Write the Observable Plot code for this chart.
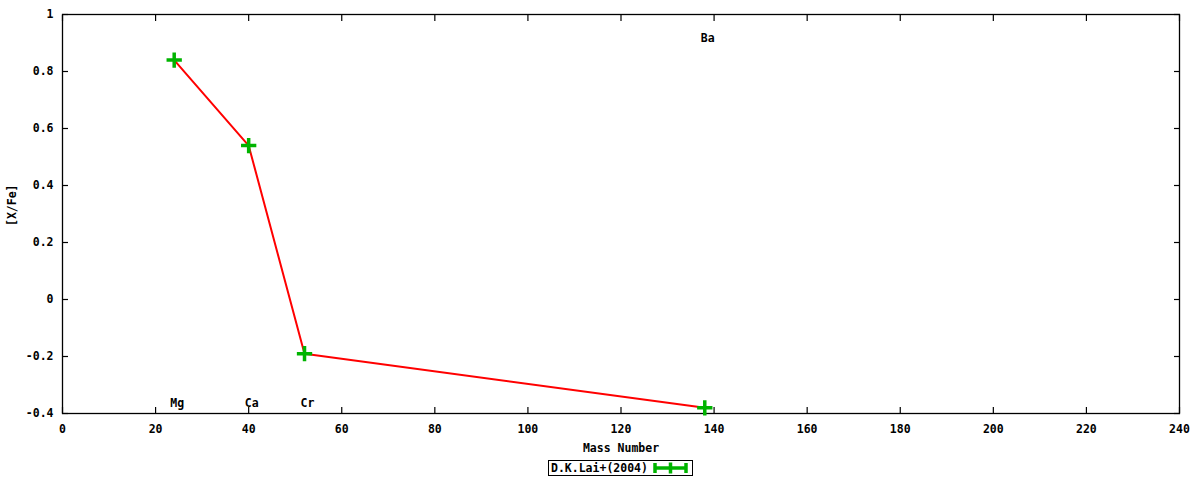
<!DOCTYPE html>
<html><head><meta charset="utf-8">
<script src="https://cdn.jsdelivr.net/npm/d3@7"></script>
<script src="https://cdn.jsdelivr.net/npm/@observablehq/plot@0.6"></script>
<style>
body{margin:0;background:#fff;font-family:"DejaVu Sans Mono",monospace;}
#wrap{position:relative;width:1200px;height:480px;}
#legend{position:absolute;left:548px;top:460px;height:16px;border:1px solid #000;display:flex;align-items:center;padding:0 2px;font:bold 11.5px "DejaVu Sans Mono",monospace;background:#fff;box-sizing:border-box;}
</style></head>
<body><div id="wrap"><div id="chart"></div><div id="legend"></div></div>
<script>
const elements = ["Mg", "Ca", "Cr", "Ba"];
const massNumber = [24, 40, 52, 138];
const xFe = [0.84, 0.54, -0.19, -0.38];
const labelY = [-0.365, -0.365, -0.365, 0.915];
const xTicks = [0, 20, 40, 60, 80, 100, 120, 140, 160, 180, 200, 220, 240];
const yTicks = [-0.4, -0.2, 0, 0.2, 0.4, 0.6, 0.8, 1];
const seriesName = "D.K.Lai+(2004)";

const data = elements.map((e, i) => ({el: e, x: massNumber[i], y: xFe[i], ly: labelY[i]}));
const green = "#00b400";
const fmtY = d => d === 0 ? "0" : (d === 1 ? "1" : String(+d.toFixed(1)));

const plot = Plot.plot({
  width: 1200, height: 480,
  marginLeft: 62, marginRight: 21, marginTop: 14, marginBottom: 67,
  style: {fontFamily: '"DejaVu Sans Mono", monospace', fontSize: "11.5px", fontWeight: "bold", color: "#000", background: "#fff"},
  x: {domain: [0, 240]},
  y: {domain: [-0.4, 1]},
  marks: [
    Plot.axisX({ticks: xTicks, tickSize: -6, tickPadding: 17, tickFormat: d => String(d), label: null, strokeWidth: 1.2}),
    Plot.axisX({anchor: "top", ticks: xTicks, tickSize: -6, tickFormat: () => "", label: null, strokeWidth: 1.2}),
    Plot.axisY({ticks: yTicks, tickSize: -6, tickPadding: 15, tickFormat: fmtY, label: null, strokeWidth: 1.2}),
    Plot.axisY({anchor: "right", ticks: yTicks, tickSize: -6, tickFormat: () => "", label: null, strokeWidth: 1.2}),
    Plot.frame({stroke: "#000", strokeWidth: 1.3}),
    Plot.line(data, {x: "x", y: "y", stroke: "#ff0000", strokeWidth: 2}),
    Plot.dot(data, {x: "x", y: "y", symbol: "plus", r: 5, stroke: green, strokeWidth: 3.5}),
    Plot.text(data, {x: "x", y: "ly", text: "el", textAnchor: "middle", dx: 3, fill: "#000"}),
    Plot.text(["Mass Number"], {frameAnchor: "bottom", dy: 38, text: d => d, fill: "#000"}),
    Plot.text(["[X/Fe]"], {frameAnchor: "left", dx: -50, dy: 12, rotate: -90, text: d => d, fill: "#000"})
  ]
});
document.getElementById("chart").appendChild(plot);

const leg = document.getElementById("legend");
leg.innerHTML = `<span>${seriesName}</span><svg width="38" height="12" style="margin-left:4px"><g stroke="${green}" stroke-width="3.5"><line x1="2" y1="6" x2="35" y2="6"/><line x1="3" y1="1" x2="3" y2="11"/><line x1="34" y1="1" x2="34" y2="11"/><line x1="18.5" y1="0.5" x2="18.5" y2="11.5"/></g></svg>`;
</script></body></html>
